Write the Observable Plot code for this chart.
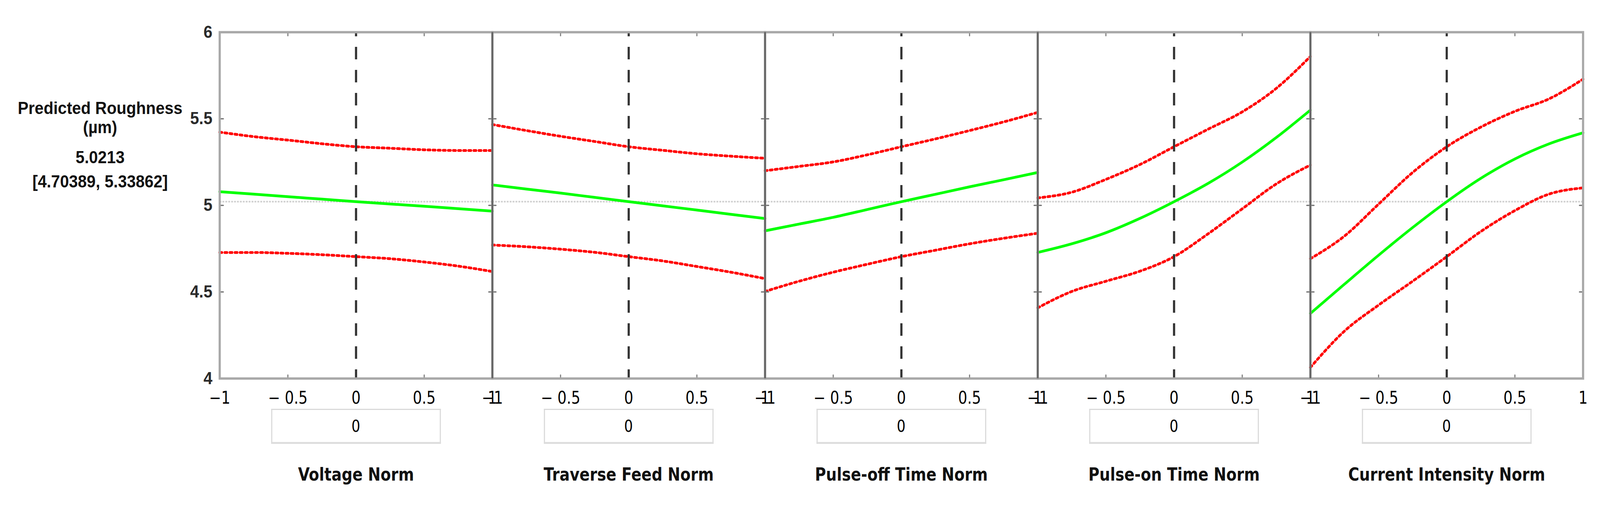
<!DOCTYPE html>
<html>
<head>
<meta charset="utf-8">
<script src="https://cdn.jsdelivr.net/npm/d3@7"></script>
<script src="https://cdn.jsdelivr.net/npm/@observablehq/plot@0.6"></script>
<style>
  html, body { margin: 0; padding: 0; background: #fff; overflow: hidden; }
  #wrap { position: relative; width: 4395px; height: 1296px; overflow: hidden; background: #fff; transform-origin: 0 0; }
  #wrap svg { position: absolute; left: 0; top: 0; }
  .lt { position: absolute; left: 275px; transform: translate(-50%, -50%); font-family: "Liberation Sans", Arial, sans-serif; font-weight: bold; font-size: 44px; color: #111; white-space: nowrap; line-height: 1.15; }
  .boxrow { position: absolute; left: 603px; top: 1047px; width: 3745px; height: 90px; display: flex; }
  .cell { flex: 1; display: flex; justify-content: center; }
  .box { width: 466px; height: 90px; box-sizing: border-box; border: 3px solid #d9d9d9; border-bottom: 5px solid #dedede; display: flex; align-items: center; justify-content: center; font-family: "DejaVu Sans Condensed", "DejaVu Sans", sans-serif; font-stretch: condensed; font-size: 42px; color: #000; }
</style>
</head>
<body>
<div id="wrap"></div>
<script>
// ---- data ----
const factors = ["Voltage Norm", "Traverse Feed Norm", "Pulse-off Time Norm", "Pulse-on Time Norm", "Current Intensity Norm"];
const xNorm = [-1, -0.75, -0.5, -0.25, 0, 0.25, 0.5, 0.75, 1];
const currentSettings = [0, 0, 0, 0, 0];
const predictedValue = 5.0213;
const confInterval = [4.70389, 5.33862];
const yTicks = [4, 4.5, 5, 5.5, 6];
const xTicks = [-1, -0.5, 0, 0.5, 1];

const predVoltage   = [5.079, 5.065, 5.050, 5.036, 5.0213, 5.008, 4.995, 4.981, 4.967];
const upperVoltage  = [5.423, 5.397, 5.377, 5.356, 5.33862, 5.330, 5.321, 5.317, 5.317];
const lowerVoltage  = [4.728, 4.728, 4.723, 4.715, 4.70389, 4.692, 4.673, 4.649, 4.618];

const predFeed      = [5.118, 5.094, 5.071, 5.046, 5.0213, 4.997, 4.973, 4.948, 4.924];
const upperFeed     = [5.467, 5.432, 5.399, 5.369, 5.33862, 5.318, 5.298, 5.284, 5.272];
const lowerFeed     = [4.771, 4.761, 4.747, 4.729, 4.70389, 4.679, 4.647, 4.614, 4.577];

const predPulseOff  = [4.853, 4.892, 4.931, 4.976, 5.0213, 5.064, 5.107, 5.148, 5.190];
const upperPulseOff = [5.200, 5.225, 5.251, 5.292, 5.33862, 5.384, 5.432, 5.482, 5.537];
const lowerPulseOff = [4.503, 4.562, 4.614, 4.660, 4.70389, 4.741, 4.778, 4.810, 4.839];

const predPulseOn   = [4.728, 4.778, 4.842, 4.925, 5.0213, 5.127, 5.250, 5.392, 5.550];
const upperPulseOn  = [5.043, 5.076, 5.150, 5.236, 5.33862, 5.440, 5.540, 5.676, 5.860];
const lowerPulseOn  = [4.408, 4.503, 4.562, 4.620, 4.70389, 4.836, 4.980, 5.124, 5.233];

const predCurrent   = [4.376, 4.545, 4.712, 4.872, 5.0213, 5.156, 5.268, 5.355, 5.419];
const upperCurrent  = [4.692, 4.823, 5.007, 5.190, 5.33862, 5.452, 5.543, 5.615, 5.729];
const lowerCurrent  = [4.064, 4.274, 4.424, 4.562, 4.70389, 4.849, 4.970, 5.065, 5.101];

const predAll  = [predVoltage, predFeed, predPulseOff, predPulseOn, predCurrent];
const upperAll = [upperVoltage, upperFeed, upperPulseOff, upperPulseOn, upperCurrent];
const lowerAll = [lowerVoltage, lowerFeed, lowerPulseOff, lowerPulseOn, lowerCurrent];

const rows = factors.flatMap((f, i) => xNorm.map((x, j) => ({
  factor: f, x, pred: predAll[i][j], upper: upperAll[i][j], lower: lowerAll[i][j]
})));

// ---- helpers ----
const tickShape = { draw(context, l) { context.moveTo(0, 0); context.lineTo(0, -l); } };
const fmtX = d => d < 0 ? (d === -1 ? "\u22121" : "\u2212 " + (-d)) : String(d);
const cond = "'DejaVu Sans Condensed', 'DejaVu Sans', sans-serif";

const chart = Plot.plot({
  width: 4395,
  height: 1296,
  marginLeft: 603,
  marginRight: 47,
  marginTop: 82,
  marginBottom: 327,
  fx: { domain: factors, padding: 0 },
  x: { domain: [-1, 1] },
  y: { domain: [4, 6] },
  marks: [
    Plot.ruleY([predictedValue], { stroke: "#cfcfcf", strokeWidth: 4, strokeDasharray: "5,3" }),
    Plot.line(rows, { fx: "factor", x: "x", y: "upper", stroke: "#ff0000", strokeWidth: 7, strokeDasharray: "6,8", curve: "monotone-x" }),
    Plot.line(rows, { fx: "factor", x: "x", y: "lower", stroke: "#ff0000", strokeWidth: 7, strokeDasharray: "6,8", curve: "monotone-x" }),
    Plot.line(rows, { fx: "factor", x: "x", y: "pred", stroke: "#00ff00", strokeWidth: 7, curve: "monotone-x" }),
    Plot.ruleX([0], { stroke: "#333", strokeWidth: 6, strokeDasharray: "32,27", strokeDashoffset: 21 }),
    Plot.vector([-0.5, 0.5], { x: d => d, frameAnchor: "bottom", length: 9, rotate: 0, anchor: "start", shape: tickShape, stroke: "#7a7a7a", strokeWidth: 3 }),
    Plot.vector([-0.5, 0.5], { x: d => d, frameAnchor: "top", length: 9, rotate: 180, anchor: "start", shape: tickShape, stroke: "#7a7a7a", strokeWidth: 3 }),
    Plot.vector([4.5, 5, 5.5], { y: d => d, frameAnchor: "left", length: 10, rotate: 90, anchor: "start", shape: tickShape, stroke: "#6a6a6a", strokeWidth: 3 }),
    Plot.vector([4.5, 5, 5.5], { y: d => d, frameAnchor: "right", length: 10, rotate: -90, anchor: "start", shape: tickShape, stroke: "#6a6a6a", strokeWidth: 3 }),
    Plot.frame({ stroke: "#a8a8a8", strokeWidth: 6 }),
    Plot.ruleX(factors.slice(1), { fx: d => d, x: () => -1, stroke: "#666", strokeWidth: 5 }),
    Plot.axisY({ anchor: "left", ticks: yTicks, tickFormat: d => String(d), tickSize: 0, tickPadding: 20, fontSize: 44, fontWeight: "bold", fontFamily: "'Liberation Sans', Arial, sans-serif", fill: "#2a2a2a", label: null }),
    Plot.axisX({ anchor: "bottom", ticks: xTicks, tickFormat: fmtX, tickSize: 0, tickPadding: 33, fontSize: 44, fontFamily: cond, fill: "#000", label: null }),
    Plot.axisFx({ anchor: "bottom", tickSize: 0, tickPadding: 229, fontSize: 46, fontWeight: "bold", fontFamily: cond, fill: "#111", label: null })
  ]
});

const wrap = document.getElementById("wrap");
wrap.appendChild(chart);

// left info text
const info = [
  { text: "Predicted Roughness", y: 277 },
  { text: "(\u00b5m)", y: 326 },
  { text: String(predictedValue), y: 403 },
  { text: "[" + confInterval[0] + ", " + confInterval[1] + "]", y: 465 }
];
for (const d of info) {
  const el = document.createElement("div");
  el.className = "lt";
  el.style.top = d.y + "px";
  el.textContent = d.text;
  wrap.appendChild(el);
}

// value boxes under each panel
const row = document.createElement("div");
row.className = "boxrow";
currentSettings.forEach(v => {
  const cell = document.createElement("div");
  cell.className = "cell";
  const box = document.createElement("div");
  box.className = "box";
  box.textContent = String(v);
  cell.appendChild(box);
  row.appendChild(cell);
});
wrap.appendChild(row);

// fit the fixed-size layout into the actual viewport
const vw = window.innerWidth, vh = window.innerHeight;
const sx = Math.min(vw, 4395) / 4395, sy = Math.min(vh, 1296) / 1296;
wrap.style.transform = `scale(${sx}, ${sy})`;
</script>
</body>
</html>
